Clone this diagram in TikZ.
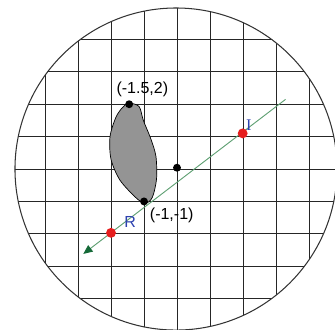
\documentclass[tikz,border=0pt]{standalone}
\usepackage{fontspec}
\setmainfont{Liberation Sans}
\newfontfamily\serifschrift{Liberation Serif}
\usepackage{tikz}
\definecolor{strahlgruen}{RGB}{95,160,115}
\definecolor{pfeilgruen}{RGB}{20,105,55}
\definecolor{punktrot}{RGB}{230,30,30}
\definecolor{labelblau}{RGB}{45,65,175}
\usetikzlibrary{arrows.meta, positioning}

\begin{document}
\begin{tikzpicture}[punkt/.style={circle, fill=black, inner sep=0pt, minimum size=2.4mm},
					rotpunkt/.style={circle, fill=punktrot, inner sep=0pt, minimum size=3mm},
					gitter/.style={color=black!85, line width=0.8pt},
					flaeche/.style={fill=black!42, draw=black, line width=0.6pt},
					x=10mm, y=9.82mm,
					>={Triangle[length=2.8mm, width=2.4mm, color=pfeilgruen]},   %Pfeilspitzen
					font=\fontsize{13.8}{16}\selectfont]
					%Bildbereich festlegen
					\useasboundingbox (-5.364,-4.938) rectangle (4.788,5.216);
					%Raster im Kreis zeichnen
					\begin{scope}
						\clip (-0.03,0) circle [radius=4.88cm];
						\foreach \x in {-5,...,5} \draw[gitter] (\x,-5.5) -- (\x,5.5);
						\foreach \y in {-5,...,5} \draw[gitter] (-5.5,\y) -- (5.5,\y);
					\end{scope}
					% Kreis zeichnen
					\draw[color=black!80, line width=0.9pt] (-0.03,0) circle [radius=4.88cm];
					% Flaeche zeichnen
					\draw[flaeche] plot[smooth cycle] coordinates {
						(-1.46,2.03) (-1.15,1.93) (-1.02,1.5) (-0.8,0.95) (-0.64,0.4)
						(-0.62,-0.3) (-0.75,-0.88) (-0.97,-1.06) (-1.25,-0.88) (-1.73,-0.34)
						(-2.0,0.3) (-2.03,1.0) (-1.85,1.6) (-1.65,1.9)};
					% Strahl zeichnen
					\coordinate (anfang) at (3.29,2.15);
					\coordinate (ende) at (-2.84,-2.62);
					\draw[->, strahlgruen, line width=0.8pt] (anfang) -- (ende);
					% Punkte
					\node[punkt] (oben) at (-1.45,2) {};
					\node[punkt] (unten) at (-1,-1) {};
					\node[punkt] (mitte) at (0,0.04) {};
					\node[rotpunkt] (R) at (-2,-1.97) {};
					\node[rotpunkt] (I) at (1.99,1.1) {};
					%Beschriftung
					\node (obenlabel) at (-1.05,2.47) {(-1.5,2)};
					\node (untenlabel) at (-0.16,-1.44) {(-1,-1)};
					\node[labelblau] (Rlabel) at (-1.42,-1.62) {R};
					\node[labelblau, font=\serifschrift\fontsize{14}{16}\selectfont] (Ilabel) at (2.18,1.34) {I};
				\end{tikzpicture}
\end{document}
